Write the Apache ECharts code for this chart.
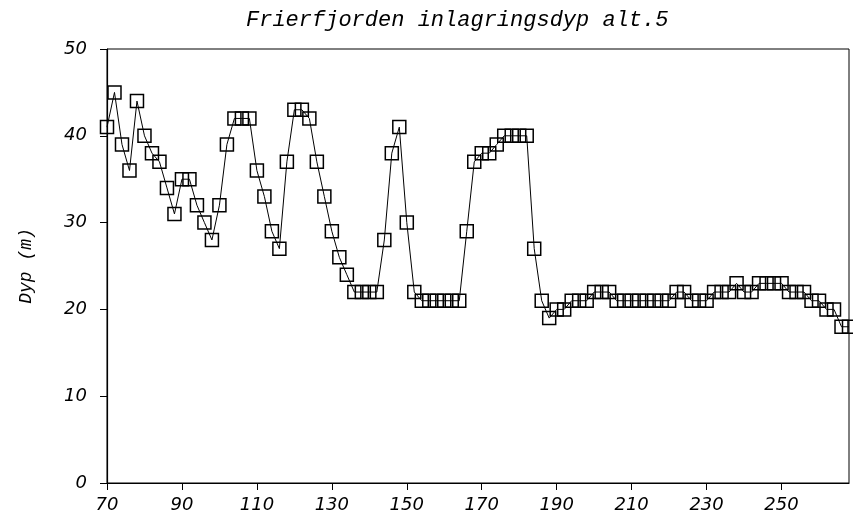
<!DOCTYPE html>
<html>
<head>
<meta charset="utf-8">
<script src="https://cdn.jsdelivr.net/npm/echarts@6/dist/echarts.min.js"></script>
<style>
html,body{margin:0;padding:0;background:#fff;}
#chart{width:853px;height:524px;}
</style>
</head>
<body>
<div id="chart"></div>
<script>
const titleText = "Frierfjorden inlagringsdyp alt.5";
const yAxisName = "Dyp (m)";
const xValues = [70,72,74,76,78,80,82,84,86,88,90,92,94,96,98,100,102,104,106,108,
  110,112,114,116,118,120,122,124,126,128,130,132,134,136,138,140,142,144,146,148,
  150,152,154,156,158,160,162,164,166,168,170,172,174,176,178,180,182,184,186,188,
  190,192,194,196,198,200,202,204,206,208,210,212,214,216,218,220,222,224,226,228,
  230,232,234,236,238,240,242,244,246,248,250,252,254,256,258,260,262,264,266,268];
const depthValues = [41,45,39,36,44,40,38,37,34,31,35,35,32,30,28,32,39,42,42,42,
  36,33,29,27,37,43,43,42,37,33,29,26,24,22,22,22,22,28,38,41,
  30,22,21,21,21,21,21,21,29,37,38,38,39,40,40,40,40,27,21,19,
  20,20,21,21,21,22,22,22,21,21,21,21,21,21,21,21,22,22,21,21,
  21,22,22,22,23,22,22,23,23,23,23,22,22,22,21,21,20,20,18,18];
const xTickLabels = [70,90,110,130,150,170,190,210,230,250];
const yTickLabels = [0,10,20,30,40,50];

const seriesData = xValues.map((x, i) => [x, depthValues[i]]);

const chart = echarts.init(document.getElementById('chart'), null, {renderer: 'canvas'});
const labelFont = {color: '#000', fontStyle: 'italic', fontFamily: 'DejaVu Sans', fontSize: 18};
chart.setOption({
  animation: false,
  backgroundColor: '#fff',
  title: {
    text: titleText,
    left: 241,
    top: 4,
    textStyle: {color: '#000', fontStyle: 'italic', fontWeight: 'normal', fontFamily: 'Liberation Mono', fontSize: 22}
  },
  grid: {left: 107, right: 4, top: 49, bottom: 41, show: true, borderColor: '#000', borderWidth: 1, backgroundColor: 'transparent'},
  xAxis: {
    type: 'value', min: 70, max: 268,
    splitLine: {show: false},
    axisLine: {lineStyle: {color: '#000', width: 1.2}},
    axisTick: {show: true, length: 7, lineStyle: {color: '#000'}, customValues: xTickLabels},
    axisLabel: Object.assign({margin: 13, customValues: xTickLabels}, labelFont)
  },
  yAxis: {
    type: 'value', min: 0, max: 50, interval: 10,
    name: yAxisName, nameLocation: 'middle', nameRotate: 90, nameGap: 72,
    nameTextStyle: {color: '#000', fontStyle: 'italic', fontFamily: 'Liberation Mono', fontSize: 18},
    splitLine: {show: false},
    axisLine: {show: true, lineStyle: {color: '#000', width: 1.2}},
    axisTick: {show: true, length: 7, lineStyle: {color: '#000'}},
    axisLabel: Object.assign({margin: 20, customValues: yTickLabels}, labelFont)
  },
  series: [{
    type: 'line',
    data: seriesData,
    clip: false,
    symbol: 'rect',
    symbolSize: 13,
    showAllSymbol: true,
    lineStyle: {color: '#000', width: 1},
    itemStyle: {color: 'rgba(0,0,0,0)', borderColor: '#000', borderWidth: 1.5},
    emphasis: {disabled: true}
  }]
});
</script>
</body>
</html>
